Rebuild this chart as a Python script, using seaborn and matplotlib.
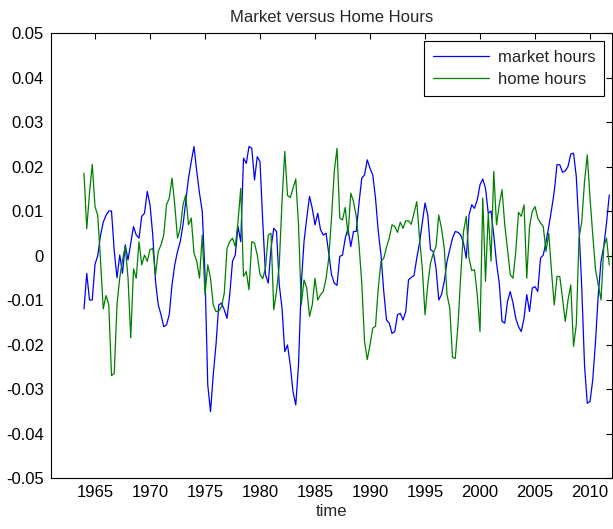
import numpy as np
import pandas as pd
import matplotlib
matplotlib.use("Agg")
import matplotlib.pyplot as plt
import seaborn as sns

# Quarterly observations, 1964Q1 - 2011Q4 (values in units of 1e-3)
start_year = 1964
n_quarters = 192

market_hours = [
    -12.0, -4.0, -10.0, -10.0, -2.0, 0.0, 4.5, 7.5, 9.0, 10.0,
    10.0, 1.0, -5.0, 0.1, -4.0, 2.4, -1.0, 2.8, 6.5, 4.6,
    3.9, 8.8, 9.5, 14.4, 11.4, 4.6, -5.8, -11.1, -13.3, -16.0,
    -15.6, -13.3, -6.6, -2.1, 0.9, 3.1, 6.9, 12.1, 17.4, 21.1,
    24.5, 18.9, 14.0, 9.9, -4.3, -29.1, -35.1, -26.8, -20.0, -11.1,
    -10.7, -12.2, -14.1, -8.8, -1.3, 0.1, 6.5, 3.1, 21.9, 20.7,
    24.5, 24.1, 17.0, 22.2, 21.1, 7.6, -4.3, -6.2, 1.6, 6.1,
    5.4, -6.6, -11.8, -21.6, -20.1, -24.6, -30.6, -33.6, -24.6, -6.6,
    3.1, 8.4, 13.3, 10.6, 6.9, 9.5, 5.8, 4.6, 5.0, 0.5,
    -4.3, -6.2, -6.7, -0.2, 0.1, 3.9, 6.1, 2.0, 5.4, 5.4,
    11.8, 17.4, 18.1, 21.5, 19.6, 18.1, 12.9, 5.4, 0.1, -8.1,
    -14.5, -15.2, -17.5, -17.1, -13.3, -13.0, -14.5, -12.6, -5.5, -4.9,
    -4.5, -0.6, 2.8, 7.3, 11.8, 9.1, 1.3, 0.9, -2.8, -10.0,
    -8.8, -5.8, -1.3, 1.3, 3.9, 5.4, 5.2, 4.6, 2.8, -0.6,
    9.1, 11.4, 10.6, 12.5, 15.9, 17.2, 15.1, 9.5, 10.0, 4.6,
    -1.7, -6.2, -14.8, -15.2, -10.3, -8.1, -10.7, -14.1, -16.0, -17.1,
    -14.1, -8.8, -12.6, -7.3, -7.0, -8.1, -0.6, 0.1, 3.1, 6.5,
    10.3, 14.4, 20.4, 20.4, 18.7, 19.0, 20.0, 22.8, 23.0, 17.8,
    6.1, -7.3, -24.6, -33.2, -32.8, -27.9, -19.3, -8.8, -1.3, 2.0,
    7.3, 13.6,
]

home_hours = [
    18.5, 6.0, 14.0, 20.5, 11.0, 9.0, -1.0, -12.0, -9.0, -11.0,
    -27.0, -26.5, -11.0, -5.0, -1.0, 2.0, -5.0, -18.5, -3.0, -5.1,
    3.1, -2.1, 0.1, -1.3, 1.3, 1.6, -4.3, 0.9, 2.4, 4.6,
    11.4, 12.9, 17.4, 11.4, 3.9, 6.1, 11.4, 13.6, 6.9, 8.4,
    0.5, -1.3, -5.1, 4.6, -8.8, -2.1, -5.1, -11.1, -12.6, -12.5,
    -11.5, -8.5, 1.6, 3.1, 3.9, 2.0, 7.6, 15.1, -4.7, -3.6,
    -7.7, 3.1, 2.8, 0.1, -4.3, -5.2, -2.8, 4.6, 5.0, -12.2,
    -8.1, -2.1, 12.1, 23.4, 13.5, 13.0, 15.1, 17.2, 6.9, -11.1,
    -5.5, -7.3, -13.7, -11.1, -5.1, -10.0, -8.8, -8.1, -5.2, -0.6,
    8.4, 18.9, 24.1, 8.4, 8.0, 10.8, 4.6, 14.0, 12.1, 8.8,
    2.4, -6.2, -19.3, -23.4, -20.1, -16.3, -15.9, -7.3, -1.3, -0.6,
    1.9, 3.9, 6.9, 6.5, 5.2, 7.5, 6.1, 7.8, 7.8, 7.0,
    9.5, 12.1, 3.9, -2.8, -13.3, -6.6, -1.7, 0.5, 2.0, 9.1,
    6.1, 1.6, -8.8, -11.8, -22.9, -23.1, -15.6, -4.3, 5.4, 8.8,
    -0.6, -3.4, -3.2, -8.8, -17.1, 12.9, -5.8, 9.5, -1.3, 18.9,
    6.9, 11.4, 14.8, 6.9, 1.3, -4.3, -5.1, 0.9, 9.7, 8.8,
    11.4, -5.1, 6.5, 9.9, 11.0, 8.4, 7.3, 6.5, 0.9, 5.0,
    -3.6, -11.1, -4.7, -4.7, -9.6, -14.8, -10.0, -6.6, -20.4, -15.6,
    3.9, 7.6, 16.6, 22.6, 12.9, 4.6, -3.2, -6.6, -10.0, 2.0,
    3.9, -2.1,
]

year_ticks = [1965, 1970, 1975, 1980, 1985, 1990, 1995, 2000, 2005, 2010]
value_ticks = [-0.05, -0.04, -0.03, -0.02, -0.01, 0, 0.01, 0.02, 0.03, 0.04, 0.05]
value_tick_labels = ["-0.05", "-0.04", "-0.03", "-0.02", "-0.01", "0",
                     "0.01", "0.02", "0.03", "0.04", "0.05"]

time = start_year + np.arange(n_quarters) / 4.0
df = pd.DataFrame({
    "time": np.concatenate([time, time]),
    "value": np.concatenate([market_hours, home_hours]) / 1000.0,
    "series": ["market hours"] * n_quarters + ["home hours"] * n_quarters,
})

sns.set_theme(style="white")
plt.rcParams["font.family"] = ["Liberation Sans", "DejaVu Sans"]
plt.rcParams["font.size"] = 12

fig = plt.figure(figsize=(6.13, 5.29), dpi=100)
ax = fig.add_axes([0.0832, 0.0964, 0.9152, 0.8412])

sns.lineplot(data=df, x="time", y="value", hue="series",
             palette={"market hours": "#0000ff", "home hours": "#008000"},
             linewidth=0.9, ax=ax, legend=False)

ax.set_xlim(1961, 2012)
ax.set_ylim(-0.05, 0.05)
ax.set_xticks(year_ticks)
ax.set_xticklabels([str(y) for y in year_ticks])
ax.set_yticks(value_ticks)
ax.set_yticklabels(value_tick_labels)
ax.tick_params(direction="in", length=4, width=0.8, top=True, right=True,
               labelsize=12, colors="black", pad=5)
for s in ax.spines.values():
    s.set_visible(True)
    s.set_color("black")
    s.set_linewidth(0.8)

ax.set_title("Market versus Home Hours", fontsize=12, pad=8)
ax.set_xlabel("time", fontsize=12, labelpad=3)
ax.set_ylabel("")

handles = [plt.Line2D([], [], color="#0000ff", lw=0.9),
           plt.Line2D([], [], color="#008000", lw=0.9)]
leg = ax.legend(handles, ["market hours", "home hours"], loc="upper right",
                frameon=True, fancybox=False, framealpha=1, edgecolor="black",
                fontsize=12, handlelength=3.4, borderaxespad=0.5,
                borderpad=0.5, labelspacing=0.45, handletextpad=0.5)
leg.get_frame().set_linewidth(0.8)

fig.savefig("out.png", dpi=100, facecolor="white")
